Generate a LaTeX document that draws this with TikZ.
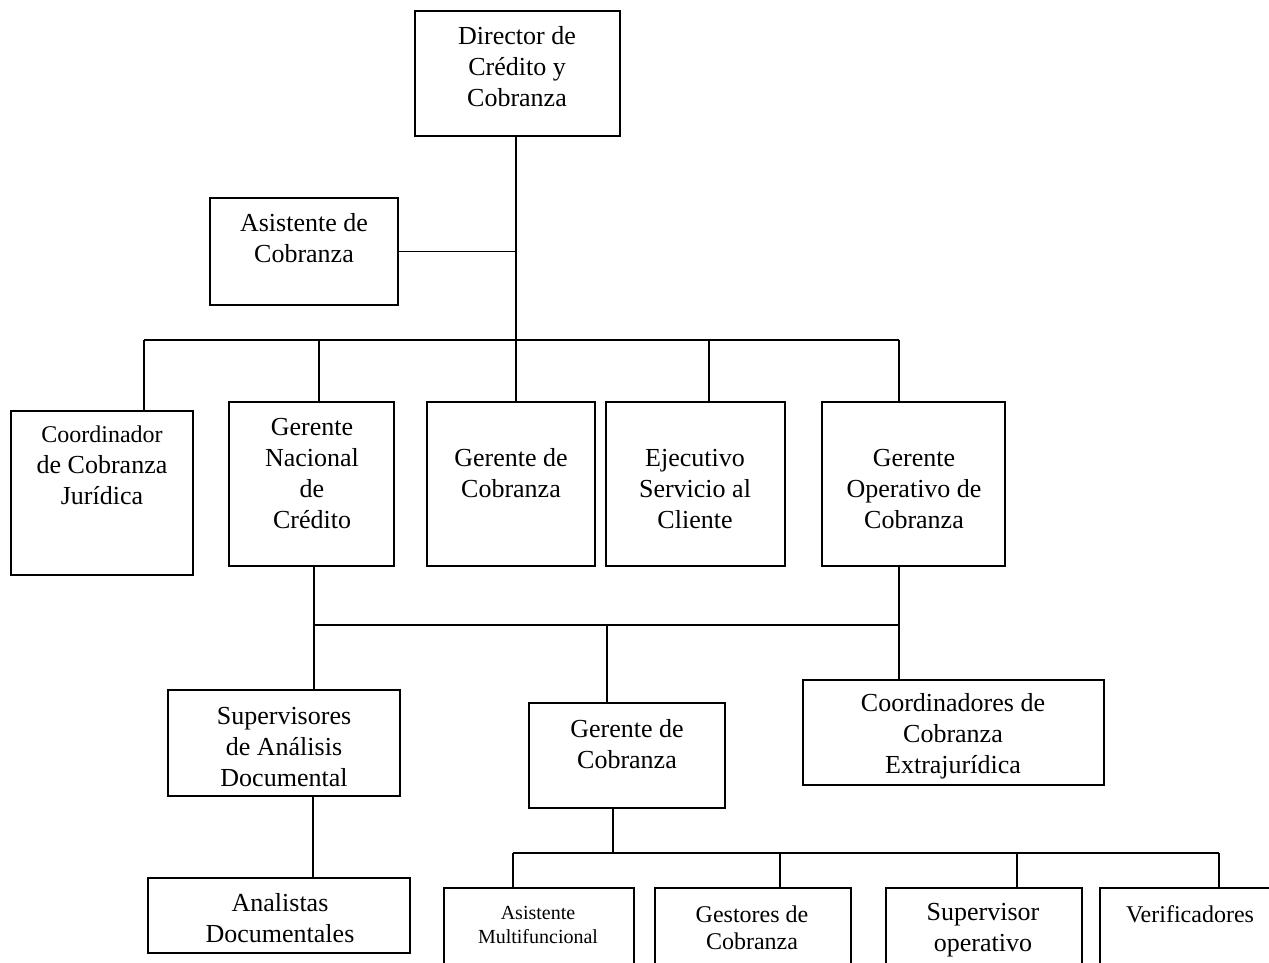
\documentclass[tikz,border=0pt]{standalone}
\usepackage{fontspec}
\setmainfont{Liberation Serif}
\usetikzlibrary{fit}
\tikzset{
  box/.style={draw, line width=0.75pt, inner sep=0pt},
  txt/.style={align=center, inner sep=0pt, font=\fontsize{13}{15.5}\selectfont},
  smalltxt/.style={align=center, inner sep=0pt, font=\fontsize{12}{13.5}\selectfont},
  tinytxt/.style={align=center, inner sep=0pt, font=\fontsize{10}{12}\selectfont},
  conn/.style={line width=0.75pt}
}
\begin{document}
\begin{tikzpicture}[x=0.5pt,y=-0.5pt]
\useasboundingbox (0,0) rectangle (1269,963);
\clip (0,0) rectangle (1269,963);
\fill[white] (0,0) rectangle (1269,963);
% boxes
\node[box, fit={(415,11) (620,136)}] (dir) {};
\node[box, fit={(210,198) (398,305)}] (asis) {};
\node[box, fit={(11,411) (193,575)}] (coord) {};
\node[box, fit={(229,402) (394,566)}] (gnc) {};
\node[box, fit={(427,402) (595,566)}] (gc) {};
\node[box, fit={(606,402) (785,566)}] (ejec) {};
\node[box, fit={(822,402) (1005,566)}] (goc) {};
\node[box, fit={(168,690) (400,796)}] (sup) {};
\node[box, fit={(529,703) (725,808)}] (gc2) {};
\node[box, fit={(803,680) (1104,785)}] (coords) {};
\node[box, fit={(148,878) (410,953)}] (anal) {};
\node[box, fit={(444,888) (634,1010)}] (am) {};
\node[box, fit={(655,888) (851,1010)}] (gest) {};
\node[box, fit={(886,888) (1082,1010)}] (sop) {};
\node[box, fit={(1100,888) (1300,1010)}] (verif) {};
% texts
\node[txt] (tdir) at (517,67) {Director de\\Crédito y\\Cobranza};
\node[txt] (tasis) at (304,238) {Asistente de\\Cobranza};
\node[txt] (tcoord) at (102,465) {{\fontsize{12}{15.5}\selectfont Coordinador}\\de Cobranza\\Jurídica};
\node[txt] (tgnc) at (312,473.5) {Gerente\\Nacional\\de\\Crédito};
\node[txt] (tgc) at (511,473.5) {Gerente de\\Cobranza};
\node[txt] (tejec) at (695,489) {Ejecutivo\\Servicio al\\Cliente};
\node[txt] (tgoc) at (914,489) {Gerente\\Operativo de\\Cobranza};
\node[txt] (tsup) at (284,747) {Supervisores\\de Análisis\\Documental};
\node[txt] (tgc2) at (627,744.5) {Gerente de\\Cobranza};
\node[txt] (tcoords) at (953,736) {Coordinadores de\\Cobranza\\Extrajurídica};
\node[txt] (tanal) at (280,918.5) {Analistas\\Documentales};
\node[tinytxt] (tam) at (538,925) {Asistente\\Multifuncional};
\node[smalltxt] (tgest) at (752,927.5) {Gestores de\\Cobranza};
\node[txt] (tsop) at (983,930) {Supervisor\\operativo};
\node[smalltxt] (tverif) at (1190,914) {Verificadores};
% bus coordinates
\coordinate (b1) at (516,340);
\coordinate (b1l) at (144,340);
\coordinate (b1a) at (319,340);
\coordinate (b1c) at (709,340);
\coordinate (b1r) at (899,340);
\coordinate (b2l) at (314,625);
\coordinate (b2m) at (607,625);
\coordinate (b2r) at (899,625);
\coordinate (b3l) at (513,853);
\coordinate (b3m) at (613,853);
\coordinate (b3a) at (780,853);
\coordinate (b3b) at (1017,853);
\coordinate (b3r) at (1219,853);
% connectors level 1
\draw[conn] (dir.south -| b1) -- (b1);
\draw[conn] (asis.east) -- (asis.east -| b1);
\draw[conn] (b1l) -- (b1r);
\draw[conn] (b1l) -- (b1l |- coord.north);
\draw[conn] (b1a) -- (b1a |- gnc.north);
\draw[conn] (b1) -- (b1 |- gc.north);
\draw[conn] (b1c) -- (b1c |- ejec.north);
\draw[conn] (b1r) -- (b1r |- goc.north);
% connectors level 2
\draw[conn] (b2l |- gnc.south) -- (b2l |- sup.north);
\draw[conn] (b2r |- goc.south) -- (b2r |- coords.north);
\draw[conn] (b2l) -- (b2r);
\draw[conn] (b2m) -- (b2m |- gc2.north);
\draw[conn] (sup.south -| 313,0) -- (anal.north -| 313,0);
% connectors level 3
\draw[conn] (b3m |- gc2.south) -- (b3m);
\draw[conn] (b3l) -- (b3r);
\draw[conn] (b3l) -- (b3l |- am.north);
\draw[conn] (b3a) -- (b3a |- gest.north);
\draw[conn] (b3b) -- (b3b |- sop.north);
\draw[conn] (b3r) -- (b3r |- verif.north);
\end{tikzpicture}
\end{document}
